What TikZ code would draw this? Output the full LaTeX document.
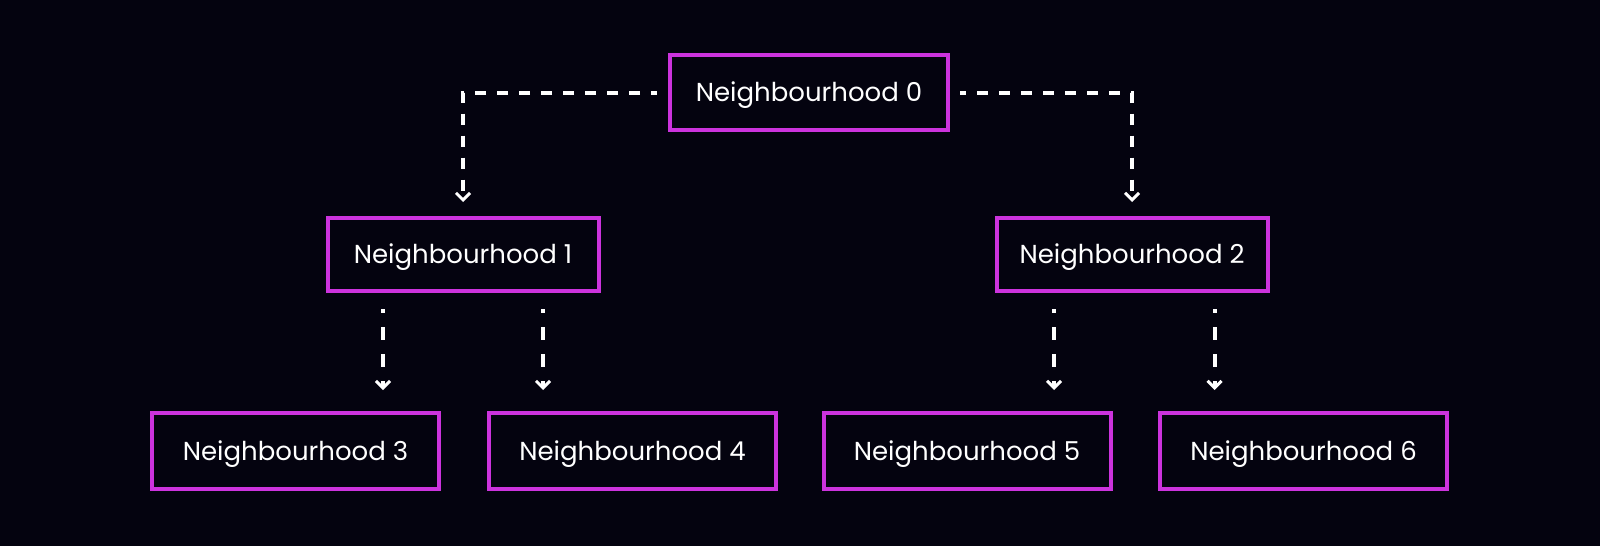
\documentclass[tikz,border=0pt]{standalone}
\usepackage{fontspec}
\setmainfont{Poppins}
\usetikzlibrary{arrows.meta}
\definecolor{bg}{HTML}{04030F}
\definecolor{mag}{HTML}{CC33DD}
\begin{document}
\begin{tikzpicture}[x=1pt,y=-1pt,
  nbox/.style={draw=mag,line width=4pt,fill=bg,text=white,inner sep=0pt,
    text height=18.3pt,text depth=0pt,
    font=\fontsize{26}{30}\selectfont},
  conn/.style={white,line width=4pt,dash pattern=on 11pt off 11pt,dash phase=5pt,
    -{Straight Barb[length=7pt,width=14pt,line width=3pt]}}]
\fill[bg] (0,0) rectangle (1600,546);
\useasboundingbox (0,0) rectangle (1600,546);
\node[nbox,minimum width=278pt,minimum height=75pt] (n0) at (809,92.5) {Neighbourhood 0};
\node[nbox,minimum width=271pt,minimum height=73pt] (n1) at (463,254.5) {Neighbourhood 1};
\node[nbox,minimum width=271pt,minimum height=73pt] (n2) at (1132,254.5) {Neighbourhood 2};
\node[nbox,minimum width=287pt,minimum height=76pt] (n3) at (295.5,451) {Neighbourhood 3};
\node[nbox,minimum width=287pt,minimum height=76pt] (n4) at (632.5,451) {Neighbourhood 4};
\node[nbox,minimum width=287pt,minimum height=76pt] (n5) at (967,451) {Neighbourhood 5};
\node[nbox,minimum width=287pt,minimum height=76pt] (n6) at (1303.5,451) {Neighbourhood 6};
\coordinate (a0l) at ([xshift=-11pt]n0.west);
\coordinate (a0r) at ([xshift=10pt]n0.east);
\draw[conn] (a0l) -| ([yshift=14pt]n1.north);
\draw[conn] (a0r) -| ([yshift=14pt]n2.north);
\coordinate (s3) at (383,309);   \coordinate (e3) at ([yshift=21pt]n3.north -| s3);
\coordinate (s4) at (543,309);   \coordinate (e4) at ([yshift=21pt]n4.north -| s4);
\coordinate (s5) at (1054,309);  \coordinate (e5) at ([yshift=21pt]n5.north -| s5);
\coordinate (s6) at (1214.5,309);\coordinate (e6) at ([yshift=21pt]n6.north -| s6);
\foreach \i in {3,4,5,6}{
  \draw[conn,dash pattern=on 13pt off 14pt,dash phase=9pt] (s\i) -- (e\i);
}
\end{tikzpicture}
\end{document}
